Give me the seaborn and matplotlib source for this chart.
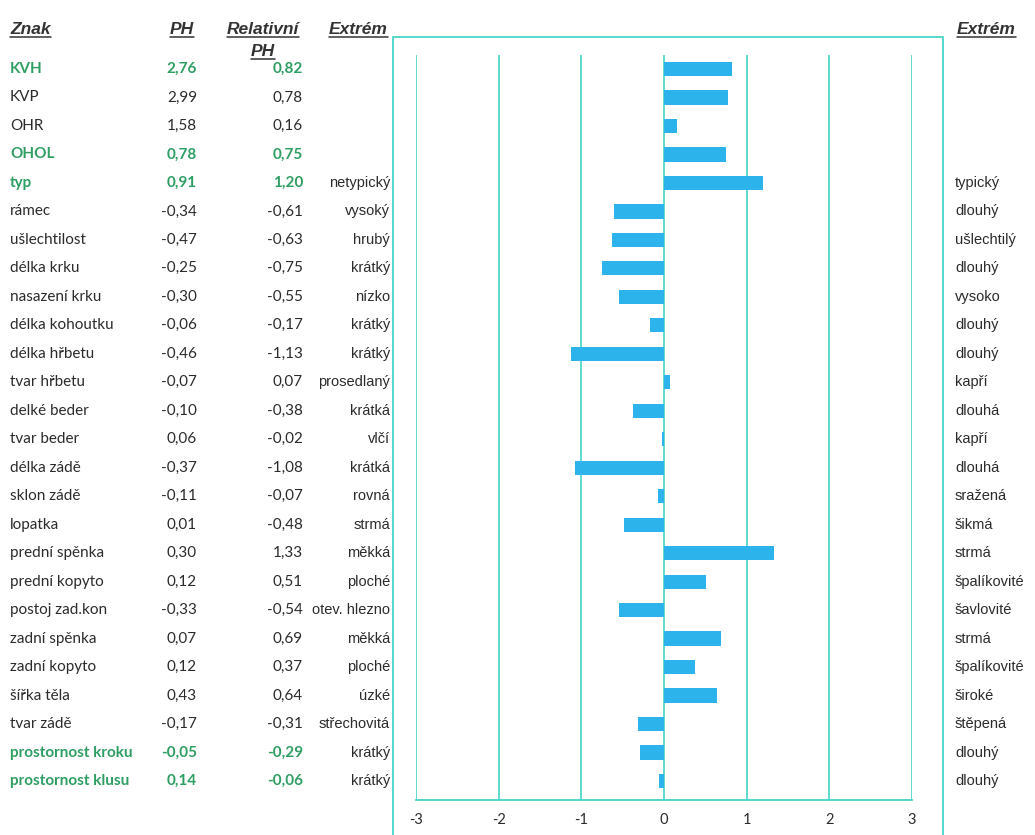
import matplotlib
matplotlib.use("Agg")
import matplotlib.pyplot as plt
import matplotlib.transforms as mtransforms
from matplotlib.patches import Rectangle
import seaborn as sns
import pandas as pd
import numpy as np

names = ["KVH", "KVP", "OHR", "OHOL", "typ", "rámec", "ušlechtilost", "délka krku",
         "nasazení krku", "délka kohoutku", "délka hřbetu", "tvar hřbetu", "delké beder",
         "tvar beder", "délka zádě", "sklon zádě", "lopatka", "prední spěnka",
         "prední kopyto", "postoj zad.kon", "zadní spěnka", "zadní kopyto", "šířka těla",
         "tvar zádě", "prostornost kroku", "prostornost klusu"]
ph = [2.76, 2.99, 1.58, 0.78, 0.91, -0.34, -0.47, -0.25, -0.30, -0.06, -0.46, -0.07, -0.10,
      0.06, -0.37, -0.11, 0.01, 0.30, 0.12, -0.33, 0.07, 0.12, 0.43, -0.17, -0.05, 0.14]
rel_ph = [0.82, 0.78, 0.16, 0.75, 1.20, -0.61, -0.63, -0.75, -0.55, -0.17, -1.13, 0.07, -0.38,
          -0.02, -1.08, -0.07, -0.48, 1.33, 0.51, -0.54, 0.69, 0.37, 0.64, -0.31, -0.29, -0.06]
extreme_left = ["", "", "", "", "netypický", "vysoký", "hrubý", "krátký", "nízko", "krátký",
                "krátký", "prosedlaný", "krátká", "vlčí", "krátká", "rovná", "strmá", "měkká",
                "ploché", "otev. hlezno", "měkká", "ploché", "úzké", "střechovitá", "krátký",
                "krátký"]
extreme_right = ["", "", "", "", "typický", "dlouhý", "ušlechtilý", "dlouhý", "vysoko",
                 "dlouhý", "dlouhý", "kapří", "dlouhá", "kapří", "dlouhá", "sražená", "šikmá",
                 "strmá", "špalíkovité", "šavlovité", "strmá", "špalíkovité", "široké",
                 "štěpená", "dlouhý", "dlouhý"]
highlight = ["KVH", "OHOL", "typ", "prostornost kroku", "prostornost klusu"]
headers = ["Znak", "PH", "Relativní\nPH", "Extrém", "Extrém"]
x_ticks = [-3, -2, -1, 0, 1, 2, 3]

def fmt(v):
    return f"{v:.2f}".replace(".", ",")

sns.set_theme(style="white")
plt.rcParams['font.family'] = ['Lato', 'DejaVu Sans']

W, H = 1035, 835
fig = plt.figure(figsize=(W / 100, H / 100), dpi=100)
fig.patch.set_facecolor("white")

teal = "#45d6cc"
bar_color = "#2cb3ec"
green = "#2f9e62"
dark = "#2b2b2b"

n = len(names)
row0, dy = 69, 28.48
top_px, bot_px = 55, 800
left_px, right_px = 416, 912
y_top = (top_px - row0) / dy
y_bot = (bot_px - row0) / dy

ax = fig.add_axes([left_px / W, 1 - bot_px / H, (right_px - left_px) / W, (bot_px - top_px) / H])

# outer frame
fig.patches.append(Rectangle((393 / W, -0.02), (943 - 393) / W, 1 - 37 / H + 0.02,
                             transform=fig.transFigure, fill=False, edgecolor=teal,
                             linewidth=1.3, zorder=0))

df = pd.DataFrame({"name": names, "rel": rel_ph})
for xv in x_ticks:
    ax.axvline(xv, color=teal, linewidth=1.2, zorder=0)
sns.barplot(data=df, x="rel", y="name", orient="h", color=bar_color, width=0.5,
            saturation=1, linewidth=0, ax=ax, zorder=2)
ax.set_xlim(-3, 3)
ax.set_ylim(y_bot, y_top)
ax.set_xticks(x_ticks)
ax.set_xticklabels([str(t) for t in x_ticks], fontsize=10.5, color=dark)
ax.set_yticks([])
ax.set_xlabel("")
ax.set_ylabel("")
for s in ["left", "right", "top"]:
    ax.spines[s].set_visible(False)
ax.spines["bottom"].set_color(teal)
ax.spines["bottom"].set_linewidth(1.3)
ax.tick_params(axis="x", length=3, width=1.2, color=teal, direction="out", pad=6)
ax.patch.set_alpha(0)

trans = mtransforms.blended_transform_factory(fig.transFigure, ax.transData)
narrow = ['Liberation Sans', 'DejaVu Sans']

for i in range(n):
    hl = names[i] in highlight
    c = green if hl else dark
    w = "bold" if hl else "normal"
    ax.text(10 / W, i, names[i], transform=trans, ha="left", va="center", fontsize=11,
            color=c, fontweight=w, clip_on=False)
    ax.text(197 / W, i, fmt(ph[i]), transform=trans, ha="right", va="center", fontsize=11,
            color=c, fontweight=w, clip_on=False)
    ax.text(303 / W, i, fmt(rel_ph[i]), transform=trans, ha="right", va="center", fontsize=11,
            color=c, fontweight=w, clip_on=False)
    if extreme_left[i]:
        ax.text(390 / W, i, extreme_left[i], transform=trans, ha="right", va="center",
                fontsize=10.5, color=dark, family=narrow, clip_on=False)
    if extreme_right[i]:
        ax.text(955 / W, i, extreme_right[i], transform=trans, ha="left", va="center",
                fontsize=10.5, color=dark, family=narrow, clip_on=False)

hdr_kw = dict(fontsize=12.5, fontweight="bold", fontstyle="italic", color="#333333",
              family=narrow, va="center")
hdr_y = 1 - 30 / H
t1 = fig.text(10 / W, hdr_y, headers[0], ha="left", **hdr_kw)
t2 = fig.text(194 / W, hdr_y, headers[1], ha="right", **hdr_kw)
rel_lines = headers[2].split("\n")
t3 = fig.text(263 / W, hdr_y, rel_lines[0], ha="center", **hdr_kw)
t4 = fig.text(263 / W, 1 - 52 / H, rel_lines[1], ha="center", **hdr_kw)
t5 = fig.text(388 / W, hdr_y, headers[3], ha="right", **hdr_kw)
t6 = fig.text(957 / W, hdr_y, headers[4], ha="left", **hdr_kw)

# underlines for headers
fig.canvas.draw()
renderer = fig.canvas.get_renderer()
for t in [t1, t2, t3, t4, t5, t6]:
    bb = t.get_window_extent(renderer=renderer)
    yline = bb.y0 + 1
    fig.lines.append(plt.Line2D([bb.x0 / W, bb.x1 / W], [yline / H, yline / H],
                                transform=fig.transFigure, color="#333333", linewidth=1.1))

fig.savefig("out.png", dpi=100, facecolor="white")
